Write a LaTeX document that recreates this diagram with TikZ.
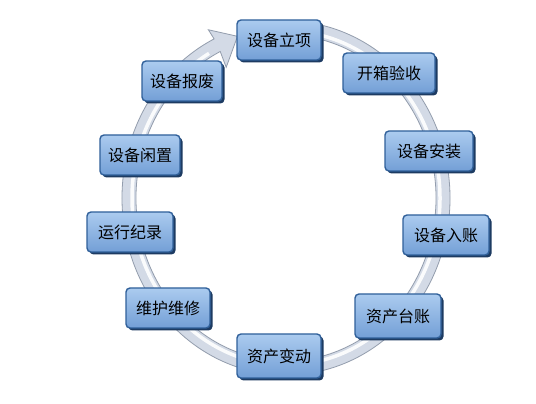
\documentclass[tikz,border=0pt]{standalone}
\usepackage{fontspec}
\newfontfamily\cjk{Noto Sans CJK SC}
\usepackage{tikz}
\usetikzlibrary{calc,shadows}
\definecolor{boxedge}{HTML}{30609A}
\definecolor{boxdark}{HTML}{1D3B62}
\definecolor{boxtop}{HTML}{ABCBEF}
\definecolor{boxbot}{HTML}{739FD6}
\definecolor{ringfill}{HTML}{D3DAE6}
\definecolor{ringedge}{HTML}{939DAD}

\begin{document}
\begin{tikzpicture}[x=1pt,y=1pt,
    stepbox/.style={draw=boxedge, line width=1.4pt, rounded corners=4pt,
      top color=boxtop, bottom color=boxbot,
      minimum width=84pt, minimum height=40pt, inner sep=3pt,
      font=\cjk\fontsize{16}{16}\selectfont, text=black,
      drop shadow={shadow xshift=2.5pt, shadow yshift=-2.5pt, fill=boxdark, opacity=1}}]
    \fill[white] (0,0) rectangle (536,404);
    \useasboundingbox (0,0) rectangle (536,404);
    \coordinate (c) at (286,206);

    % ring with arrow head
    \path[draw=ringedge, line width=0.8pt, fill=ringfill]
      ($(c)+(97:164pt and 177pt)$) arc[start angle=97, end angle=-244, x radius=164pt, y radius=177pt]
      -- ($(c)+(116.5:174pt and 188pt)$) -- ($(c)+(108:157pt and 170pt)$)
      -- ($(c)+(116.5:134pt and 146pt)$) -- ($(c)+(116:150pt and 163pt)$)
      arc[start angle=-244, end angle=97, x radius=150pt, y radius=163pt] -- cycle;
    \draw[white, line width=3.5pt, opacity=0.9]
      ($(c)+(97:154pt and 167pt)$) arc[start angle=97, end angle=-240, x radius=154pt, y radius=167pt];

    \node[stepbox] (lixiang)  at (279,364) {设备立项};
    \node[stepbox, minimum width=92pt] (yanshou) at (389,331) {开箱验收};
    \node[stepbox, minimum width=88pt] (anzhuang) at (429,253) {设备安装};
    \node[stepbox, minimum width=86pt] (ruzhang) at (446,169) {设备入账};
    \node[stepbox, minimum width=86pt, minimum height=44pt] (taizhang) at (398,88) {资产台账};
    \node[stepbox, minimum height=44pt] (biandong) at (279,48) {资产变动};
    \node[stepbox] (weixiu)   at (168,96) {维护维修};
    \node[stepbox, minimum width=86pt] (jilu) at (130,172) {运行纪录};
    \node[stepbox, minimum width=80pt] (xianzhi) at (140,249) {设备闲置};
    \node[stepbox, minimum width=80pt] (baofei) at (182,323) {设备报废};
\end{tikzpicture}
\end{document}
